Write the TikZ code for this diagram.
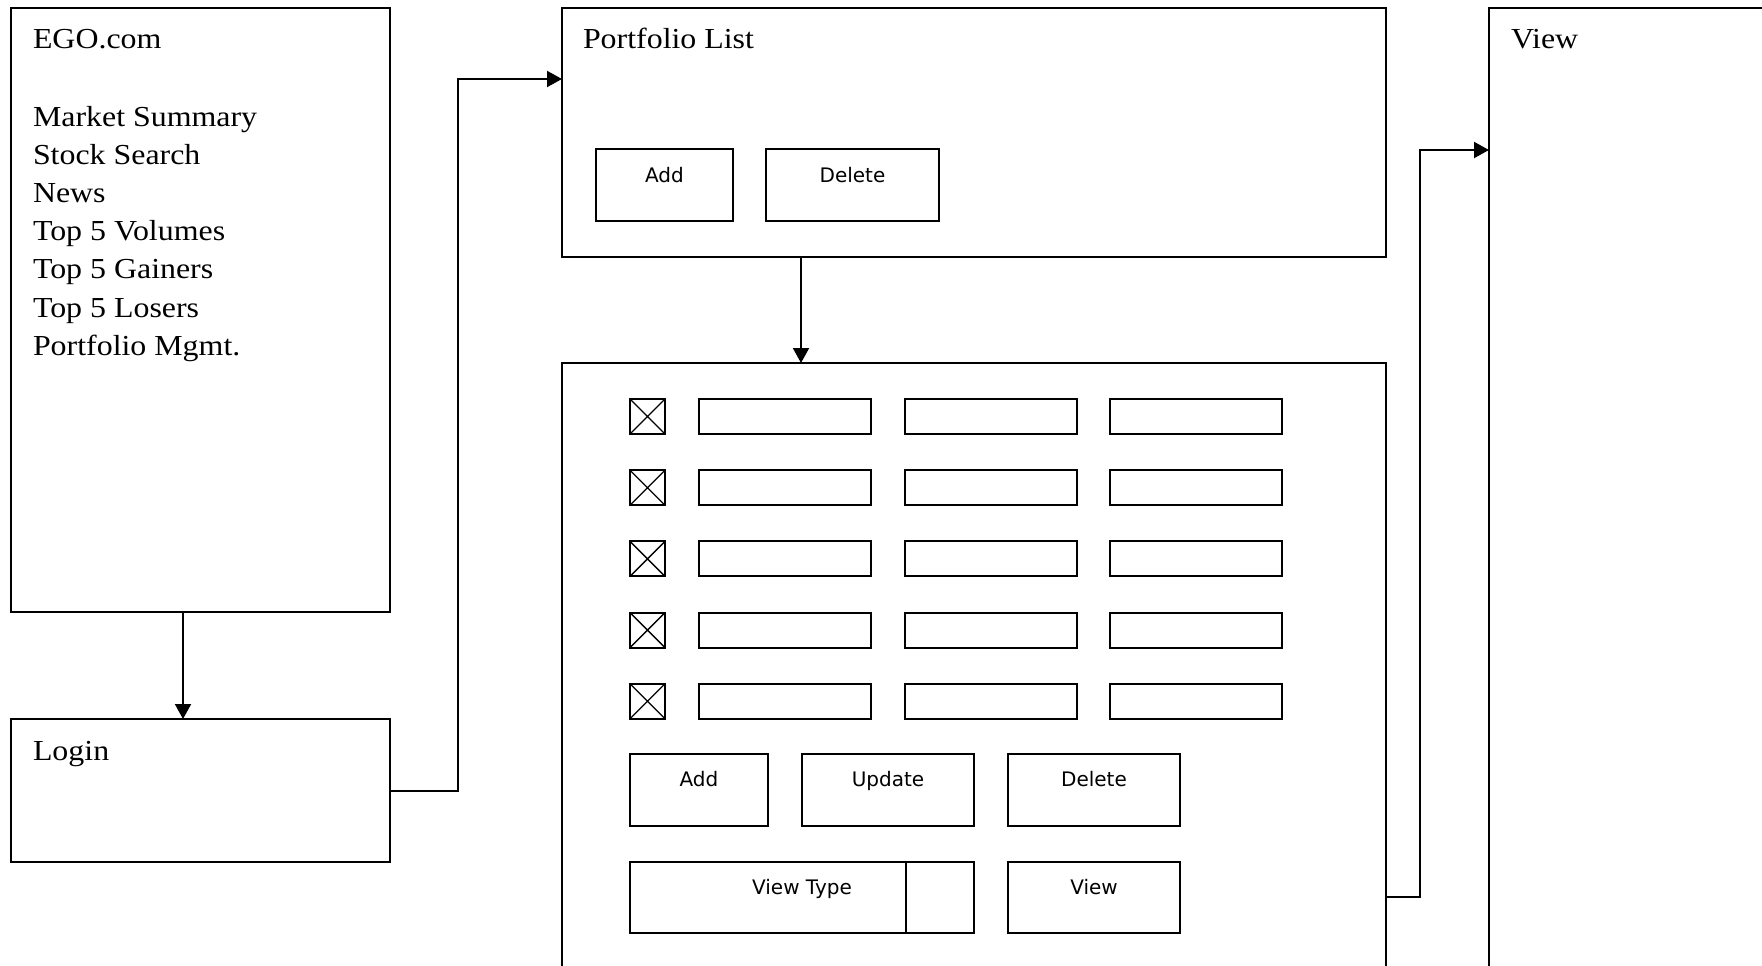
\documentclass[tikz,border=0pt]{standalone}
\usepackage{fontspec}
\setmainfont{Liberation Serif}[FakeStretch=1.1]
\newfontfamily\btnfont{DejaVu Sans}
\usetikzlibrary{arrows.meta}

\begin{document}
\begin{tikzpicture}[x=1pt, y=-1pt, line width=2pt,
                    >={Triangle[length=15pt, width=16pt]},
                    panel/.style 2 args={draw, rectangle, inner sep=0pt, outer sep=0pt,
                            anchor=north west, minimum width=#1, minimum height=#2},
                    checkbox/.style={panel={35pt}{35pt},
                            path picture={\draw[line width=1.3pt]
                              (path picture bounding box.north west) -- (path picture bounding box.south east)
                              (path picture bounding box.south west) -- (path picture bounding box.north east);}},
                    field/.style={panel={172pt}{35pt}},
                    title/.style={anchor=base west, inner sep=0pt, font=\fontsize{29}{35}\selectfont},
                    btntext/.style={anchor=base, inner sep=0pt, font=\btnfont\fontsize{20}{24}\selectfont}]
                \clip (0,0) rectangle (1762,966);

                % screens
                \node[panel={379pt}{604pt}] (ego)   at (11,8) {};
                \node[panel={379pt}{143pt}] (login) at (11,719) {};
                \node[panel={824pt}{249pt}] (plist) at (562,8) {};
                \node[panel={824pt}{700pt}] (rows)  at (562,363) {};
                \node[panel={400pt}{1000pt}] (view) at (1489,8) {};

                \node[title] (egoT) at (32,49) {EGO.com};
                \foreach \t [count=\i] in {Market Summary,Stock Search,News,Top 5 Volumes,
                                           Top 5 Gainers,Top 5 Losers,Portfolio Mgmt.} {
                        \node[title] (menu\i) at (32,{126+38.2*(\i-1)}) {\t};
                    }
                \node[title] (loginT) at (32,760) {Login};
                \node[title] (plistT) at (582,49) {Portfolio List};
                \node[title] (viewT)  at (1510,49) {View};

                % portfolio list buttons
                \node[panel={137pt}{72pt}] (pAdd) at (596,149) {};
                \node[panel={173pt}{72pt}] (pDel) at (766,149) {};
                \node[btntext] at ([yshift=-33pt]pAdd.north) {Add};
                \node[btntext] at ([yshift=-33pt]pDel.north) {Delete};

                % portfolio rows
                \foreach \r in {0,...,4} {
                        \pgfmathsetmacro{\y}{399+71.2*\r}
                        \node[checkbox] (cb\r) at (630,\y) {};
                        \foreach \c/\x in {1/699,2/905,3/1110} {
                                \node[field] (f\r\c) at (\x,\y) {};
                            }
                    }

                \node[panel={138pt}{72pt}] (bAdd)  at (630,754) {};
                \node[panel={172pt}{72pt}] (bUpd)  at (802,754) {};
                \node[panel={172pt}{72pt}] (bDel)  at (1008,754) {};
                \node[panel={344pt}{71pt}] (vType) at (630,862) {};
                \node[panel={172pt}{71pt}] (bView) at (1008,862) {};
                \draw[line width=1.3pt] ([xshift=276pt]vType.north west) -- ([xshift=276pt]vType.south west);

                \node[btntext] at ([yshift=-32pt]bAdd.north)  {Add};
                \node[btntext] at ([yshift=-32pt]bUpd.north)  {Update};
                \node[btntext] at ([yshift=-32pt]bDel.north)  {Delete};
                \node[btntext] at ([yshift=-32pt]vType.north) {View Type};
                \node[btntext] at ([yshift=-32pt]bView.north) {View};

                % flow
                \draw[->] ([xshift=-17.5pt]ego.south) -- ([xshift=-17.5pt]login.north);
                \draw[->] (login.east) -- ++(68,0) |- ([yshift=53.5pt]plist.west);
                \draw[->] ([xshift=-173pt]plist.south) -- ([xshift=-173pt]rows.north);
                \draw[->] ([yshift=-534pt]rows.north east) -- ++(34,0) |- ([yshift=-142pt]view.north west);
            \end{tikzpicture}
\end{document}
